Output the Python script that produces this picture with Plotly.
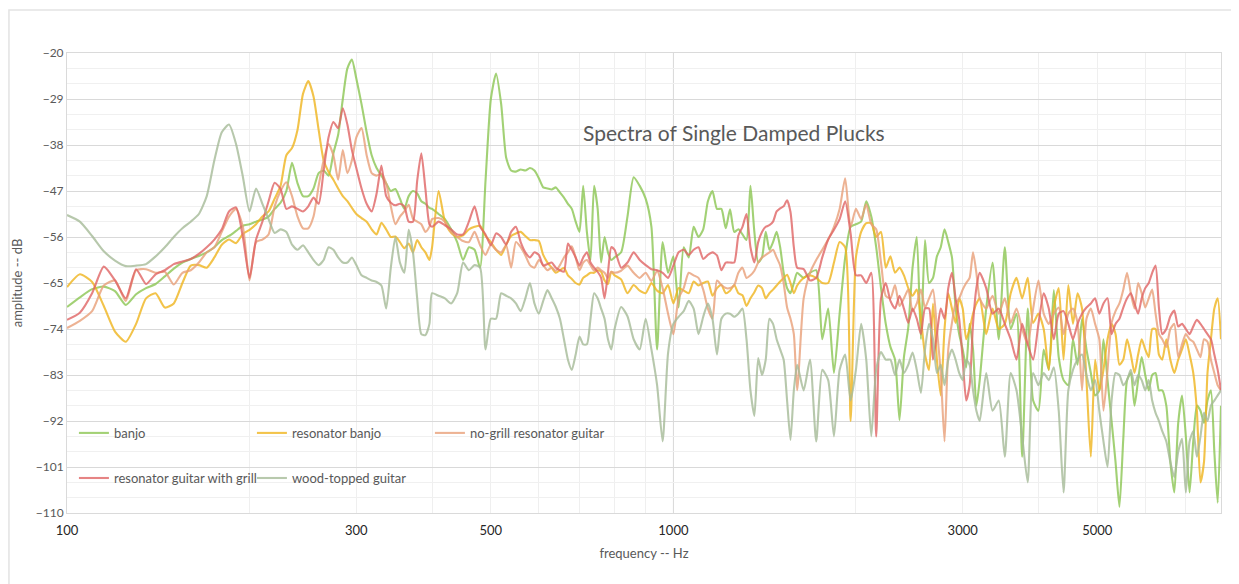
import plotly.graph_objects as go

# frequency grid (Hz)
freq = [
    100, 105, 110, 115, 120, 125, 130, 135, 140, 145, 150, 155, 160, 165, 170, 175, 180, 185, 190, 195,
    200, 205, 210, 215, 220, 225, 230, 235, 240, 245, 250, 255, 260, 265, 270, 275, 280, 285, 290, 295,
    300, 306, 312, 318, 324, 330, 336, 342, 348, 354, 360, 366, 372, 378, 384, 390, 396,
    400, 410, 420, 430, 440, 450, 460, 470, 480, 490, 500, 510, 520, 530, 540, 550, 560, 570, 580, 590,
    600, 610, 620, 630, 640, 650, 660, 670, 680, 690, 700, 710, 720, 730, 740, 750, 760, 770, 780, 790,
    800, 820, 840, 860, 880, 900, 920, 940, 960, 980, 1000, 1020, 1040, 1060, 1080, 1100, 1120, 1140, 1160, 1180,
    1200, 1220, 1240, 1260, 1280, 1300, 1320, 1340, 1360, 1380, 1400, 1420, 1440, 1460, 1480, 1500, 1520, 1540, 1560, 1580,
    1600, 1640, 1680, 1720, 1760, 1800, 1840, 1880, 1920, 1960, 2000, 2040, 2080, 2120, 2160, 2200, 2240, 2280, 2320, 2360,
    2400, 2440, 2480, 2520, 2560, 2600, 2640, 2680, 2720, 2760, 2800, 2840, 2880, 2920, 2960, 3000, 3040, 3080, 3120, 3160,
    3200, 3280, 3360, 3440, 3520, 3600, 3680, 3760, 3840, 3920, 4000, 4080, 4160, 4240, 4320, 4400, 4480, 4560, 4640, 4720,
    4800, 4880, 4960, 5040, 5120, 5200, 5280, 5360, 5440, 5520, 5600, 5680, 5760, 5840, 5920, 6000, 6080, 6160, 6240, 6320,
    6400, 6500, 6600, 6700, 6800, 6900, 7000, 7100, 7200, 7300, 7400, 7500, 7600, 7700, 7800, 7900, 8000,
]

# amplitude (dB) for each instrument
banjo = [
    -69.7, -67.8, -66.2, -65.7, -66.6, -69.3, -67.2, -66.0, -65.2, -63.7, -62.2, -61.0, -60.3, -59.7, -59.0, -58.0, -56.6, -55.8, -54.8, -53.8,
    -53.5, -53, -52.6, -52, -50.5, -49.3, -47, -41.5, -45.5, -48, -48, -46.5, -43.5, -43, -44, -39.6, -36, -29, -23, -21.3,
    -25, -30, -35.5, -40, -42.5, -44, -45.5, -47, -46.6, -48.5, -50.5, -48, -47, -47.5, -49, -49.5, -50.3,
    -50.5, -51.5, -52.5, -54.5, -57, -60.5, -58, -58.5, -62, -45, -29, -24, -30, -40.5, -43, -43.2, -42.8, -43, -42.5, -43,
    -44.5, -46.3, -46.5, -46.7, -46.3, -47.3, -48.3, -49.5, -50.5, -53, -55, -46, -55, -60.5, -46, -50.4, -61, -56, -59, -60.5,
    -60, -59, -52, -44.3, -46, -48.5, -54, -78, -57, -63, -59.8, -69.8, -58, -60, -54, -56, -54.5, -49, -47, -50.5,
    -50.5, -54.3, -50.6, -55, -54.5, -55.5, -56.6, -46, -55, -61, -60, -55, -58.5, -57, -55, -58, -63, -66, -67, -65,
    -63, -64, -63, -62.5, -76, -70, -82.6, -71, -60, -54, -53.5, -53, -49, -52, -58, -66, -73, -77.5, -80, -91.8,
    -79.5, -73.7, -62, -56, -76, -56.6, -65, -64, -59.8, -58, -54.5, -57, -60, -69.8, -75, -78, -81.5, -73, -78, -89,
    -84, -70, -61, -76, -58, -74, -71, -99, -70, -88, -90, -78, -82, -66.4, -79.5, -84, -85, -76, -81, -72,
    -78, -82.6, -87, -86, -76, -84, -92, -100, -108.8, -95.5, -84, -82.6, -89, -84, -79.5, -83, -86, -83, -82.6, -86,
    -86, -89, -100, -106, -92.4, -87, -95, -106, -96, -89, -90, -92.4, -88, -86, -98, -108, -89,
]

resonator_banjo = [
    -65.8, -63.3, -64.8, -69.5, -74.5, -76.5, -73, -68, -67, -69.8, -69, -65, -61.6, -61.5, -62, -60, -57.5, -56.5, -57.2, -55.4,
    -54.6, -53.5, -52, -51, -48.5, -46, -40, -38.6, -35, -28, -25.5, -28.5, -35, -41, -43.3, -44.8, -46.5, -48, -49, -50.3,
    -51.5, -52.3, -53, -54.5, -55.5, -53.2, -54.5, -56, -55.9, -57, -58.2, -57.3, -59, -56.6, -58, -59, -60.5,
    -58, -47, -53, -55.2, -56, -55.7, -54.5, -54, -53.8, -55.8, -57, -58.5, -59.5, -57.5, -55.8, -55.3, -55, -55.8, -56.6, -56.6,
    -56.8, -59.5, -61, -62, -63, -62.5, -62, -63.5, -64.2, -65, -65.3, -64, -63.5, -63, -63, -62.5, -62.8, -64.5, -65.2, -62.8,
    -63.5, -64.3, -67, -65.4, -66.5, -67, -65, -66.5, -67, -65.4, -69, -66, -66.5, -67, -64.7, -65.5, -65, -64.7, -67.5, -66,
    -65.4, -67, -66.5, -65.4, -67, -67.4, -69.5, -68, -66.8, -65.5, -66, -68, -67, -66.3, -65.5, -64.7, -64, -63.4, -65, -67,
    -65.5, -64, -63.5, -64, -65, -65, -61, -57, -58, -92, -60, -55, -53.3, -53.3, -56, -55, -62, -59.8, -63, -62,
    -63.5, -66, -67.5, -66.3, -72, -79, -82, -69, -80, -87, -74, -67, -70, -72.8, -68, -70, -76, -74, -71, -69,
    -68, -75, -70, -74, -73, -67, -64, -68, -64, -72.8, -71, -74, -82, -69.8, -66, -80, -65.4, -73, -67, -70,
    -84, -99, -80, -86, -82, -76, -73, -75, -81, -80, -76, -79, -82.6, -79, -76, -78, -79.5, -74, -74, -79,
    -80, -76, -80, -82.6, -80, -78, -76, -79, -82.6, -90, -104, -100, -82.6, -76, -70, -68, -76,
]

no_grill_guitar = [
    -73.8, -72.4, -70.5, -65.5, -64.5, -68.5, -62.5, -62.3, -63, -62.8, -65.3, -63, -62.5, -61, -59, -58, -55, -52, -50.5, -54,
    -64.5, -57, -56.5, -55.5, -50, -47, -45.3, -48, -52, -54.3, -54.3, -52, -46, -41, -37.8, -40, -44.8, -39, -43.5, -41,
    -36.5, -34.7, -40, -43.5, -44, -43.6, -45.5, -50, -53.5, -52, -51, -49.7, -52.4, -53, -53.5, -55, -54,
    -52.5, -52.3, -53, -55, -56, -56.8, -57, -55, -57.6, -59.5, -57.5, -58.5, -59, -57.6, -62, -57, -58, -59.6, -61.5, -62,
    -60.5, -61.5, -62.5, -62, -62.6, -61.5, -60, -59, -57.8, -60, -62.5, -61, -60.5, -61.5, -62.6, -62, -62.5, -63, -64, -62.8,
    -63, -62.6, -61.6, -63, -64, -63, -64.6, -62.6, -66, -71, -75, -68, -66, -63, -63.5, -64, -66.3, -70, -72, -64.5,
    -65.4, -66, -66, -65.4, -63, -62, -64, -63.5, -62.6, -61, -60, -59.5, -59, -58.5, -60, -61.6, -65, -69.8, -72, -75,
    -86, -68, -63, -60.5, -58.5, -56.5, -54, -50.5, -44.5, -54, -50.5, -52.5, -49.6, -53.5, -54.5, -61, -67.5, -68, -65.4, -69.5,
    -68, -66.3, -70.5, -69, -66.3, -69.8, -68, -66.3, -74, -82.6, -96, -78, -72.8, -69, -68, -66.3, -65, -64, -59, -63,
    -68, -70, -67.5, -71, -68, -72.8, -70, -74, -77, -70, -64.5, -71, -73, -71, -69.8, -75, -71, -70, -72.8, -86,
    -72, -70, -73, -76, -90, -82, -72.8, -70.5, -69, -66.3, -63, -67, -70, -65, -67, -69.8, -68, -66.3, -71, -75,
    -76, -77.5, -74, -73, -79.5, -77, -75, -76, -76.5, -78, -79.5, -76, -76.5, -80, -82.6, -85, -86,
]

grill_guitar = [
    -72.2, -70.8, -67, -61.8, -64.5, -68, -62.3, -65.2, -63.3, -62.5, -61.3, -60.8, -60.3, -59.3, -58, -56.5, -54.5, -51, -50.2, -56,
    -64, -56.5, -53, -49, -45.4, -46.6, -50.5, -50, -50.5, -51, -50, -48.3, -49.5, -43, -36.5, -33.5, -34.7, -30.8, -34, -39,
    -42.5, -46.5, -49.5, -51, -47.5, -42, -48, -49.3, -49.8, -49.5, -50, -53, -53, -45, -39.6, -46.6, -53.5,
    -54, -53, -53.7, -54.5, -55.5, -55.5, -53, -50, -54, -55.5, -57.6, -55.3, -56, -57.5, -55, -54, -57, -59, -60, -59,
    -59.5, -61.6, -61.3, -61, -62, -62.5, -62.8, -57.3, -58.5, -60, -61.6, -60, -59, -61, -62, -62.8, -64, -68, -63, -58,
    -58.5, -62, -61, -59, -60.5, -61.5, -62.3, -62.5, -63, -64, -61.6, -59, -58.5, -59.5, -58.5, -58, -60.3, -59.5, -59, -59.6,
    -62.5, -61, -61, -61, -55.7, -54, -51.5, -58, -61, -57, -55, -54, -53.7, -53, -51, -50.4, -50, -48.8, -51.1, -58,
    -62, -62.3, -64.5, -64, -60, -56.5, -54.6, -52.5, -49, -55.3, -63.5, -63.5, -65, -63, -95, -68, -65, -68.5, -70, -67.5,
    -70, -72.8, -70, -72, -75, -70, -70, -80, -75, -70, -72, -66, -63, -68, -72, -80, -88, -85, -73, -66,
    -63, -66, -71, -70, -73, -76, -80, -73, -77, -80, -73, -67, -70, -76, -71, -70.5, -73, -76, -73, -71,
    -69.8, -69, -68, -71, -69, -68, -75, -73, -72, -69.8, -68, -67, -69, -71, -68, -66, -65, -63, -61.6, -69.8,
    -75, -74, -71.5, -70.4, -73.5, -73, -74, -75, -73.5, -72.2, -73, -74, -75, -76, -79, -82, -86,
]

wood_guitar = [
    -51.7, -53, -55.8, -58.8, -60.6, -61.7, -61.6, -61.3, -59.8, -58, -56, -54.3, -53, -51.5, -48, -41, -35.5, -34, -37.8, -44.2,
    -51, -46.5, -49.5, -52.5, -55.2, -54.5, -55, -57.5, -58.5, -57.6, -59, -60.5, -61.5, -60.5, -58, -58.5, -60, -61, -61, -60,
    -61.5, -63.5, -64, -64.5, -64.8, -65.5, -70, -62, -56, -61, -63, -54.6, -59, -68, -75, -75.2, -73,
    -67, -67.5, -68, -69, -67, -61, -62.5, -61.5, -62, -78, -72, -72, -67, -67.5, -68, -69, -70.5, -68, -65, -69,
    -71, -68.5, -66.4, -68, -69.7, -72, -76, -80, -82, -79, -75.5, -77, -77, -72, -67, -68, -70, -72, -76, -78,
    -74, -69.7, -71.5, -76, -78, -72, -78, -85, -96, -78.7, -73, -71.6, -70.5, -68.5, -70, -75, -71.6, -69, -72, -79,
    -72, -71, -71, -71.6, -71, -70, -76, -86, -91, -79.7, -83, -80, -72, -73, -76, -78, -80, -88, -95.7, -86,
    -81, -86, -80, -96, -82, -84, -95, -82, -79, -88, -82, -73, -80, -95, -82, -78.5, -80, -80, -83, -80,
    -82.6, -81, -78.6, -82, -86.5, -78, -73, -76, -82.6, -81, -85, -80, -78, -80, -82.6, -84, -80, -81, -86, -90,
    -92, -82.6, -90, -88, -99, -82.6, -86, -95, -104, -82.6, -85, -82.6, -84, -81.5, -90, -106, -86, -82, -80, -79,
    -83, -86, -84, -90, -96, -101, -88, -82.6, -83, -85, -84, -82, -85, -83, -84, -86, -84, -88, -90.4, -92,
    -94, -96, -100, -103, -98, -95.5, -106, -96, -94, -99, -95, -90.4, -92, -89, -88, -87, -86,
]

series = [
    ("banjo", banjo, "#8CC653", "legend"),
    ("resonator banjo", resonator_banjo, "#F0B51E", "legend"),
    ("no-grill resonator guitar", no_grill_guitar, "#E9A079", "legend"),
    ("resonator guitar with grill", grill_guitar, "#E06565", "legend2"),
    ("wood-topped guitar", wood_guitar, "#A6BB98", "legend2"),
]

for name, vals, _, _ in series:
    if len(vals) != len(freq):
        raise ValueError(f"{name}: {len(vals)} values vs {len(freq)} freqs")

tick_vals = [100, 300, 500, 1000, 3000, 5000]
minor_vals = [200, 300, 400, 500, 600, 700, 800, 900, 2000, 3000, 4000, 5000, 6000, 7000, 8000]

fig = go.Figure()
for name, vals, color, leg in series:
    fig.add_trace(go.Scatter(
        x=freq, y=vals, name=name, mode="lines",
        line=dict(color=color, width=2.1, shape="spline", smoothing=0.6),
        opacity=0.8, legend=leg))

# page body has an 8px margin, so the figure is 8px smaller than the window
leg_style = dict(x=0.006, xanchor="left", yanchor="middle", orientation="h",
                 entrywidth=133, entrywidthmode="pixels", itemwidth=30,
                 bgcolor="rgba(0,0,0,0)", font=dict(size=13, color="#595959"))

fig.update_layout(
    width=1231, height=576,
    margin=dict(l=59, r=18, t=45, b=71),
    paper_bgcolor="white", plot_bgcolor="white",
    font=dict(family="Lato, Open Sans, sans-serif", color="#595959"),
    showlegend=True,
    legend=dict(y=0.174, **leg_style),
    legend2=dict(y=0.076, **leg_style),
    xaxis=dict(type="log", range=[2, 3.90309], automargin=False,
               tickvals=tick_vals, ticktext=[str(v) for v in tick_vals],
               tickfont=dict(size=13, color="#262626"), ticklabelstandoff=5,
               showgrid=False, zeroline=False,
               showline=True, mirror=True, linecolor="#DADADA", linewidth=1,
               minor=dict(tickvals=minor_vals, showgrid=True, gridcolor="#EFEFEF", gridwidth=1),
               title=dict(text="frequency -- Hz", font=dict(size=13, color="#595959"), standoff=12)),
    yaxis=dict(range=[-110, -20], tick0=-20, dtick=9, automargin=False,
               tickfont=dict(size=12, color="#595959"),
               showgrid=True, gridcolor="#D9D9D9", gridwidth=1, zeroline=False,
               showline=True, mirror=True, linecolor="#DADADA", linewidth=1,
               minor=dict(tick0=-20, dtick=3, showgrid=True, gridcolor="#F0F0F0", gridwidth=1),
               title=dict(text="amplitude -- dB", font=dict(size=13, color="#595959"), standoff=10)),
    annotations=[dict(text="Spectra of Single Damped Plucks", x=0.578, y=0.859,
                      xref="paper", yref="paper", showarrow=False,
                      font=dict(size=21, color="#595959"))],
    shapes=[
        # darker gridline at 1000 Hz
        dict(type="line", xref="paper", yref="paper", x0=0.5255, x1=0.5255, y0=0, y1=1,
             line=dict(color="#D9D9D9", width=1), layer="below"),
        # outer chart frame
        dict(type="rect", xref="paper", yref="paper", x0=-0.0503, x1=1.025, y0=-0.17, y1=1.0935,
             line=dict(color="#E3E3E3", width=1.5), layer="below"),
    ],
)

fig.write_html("out.html")
